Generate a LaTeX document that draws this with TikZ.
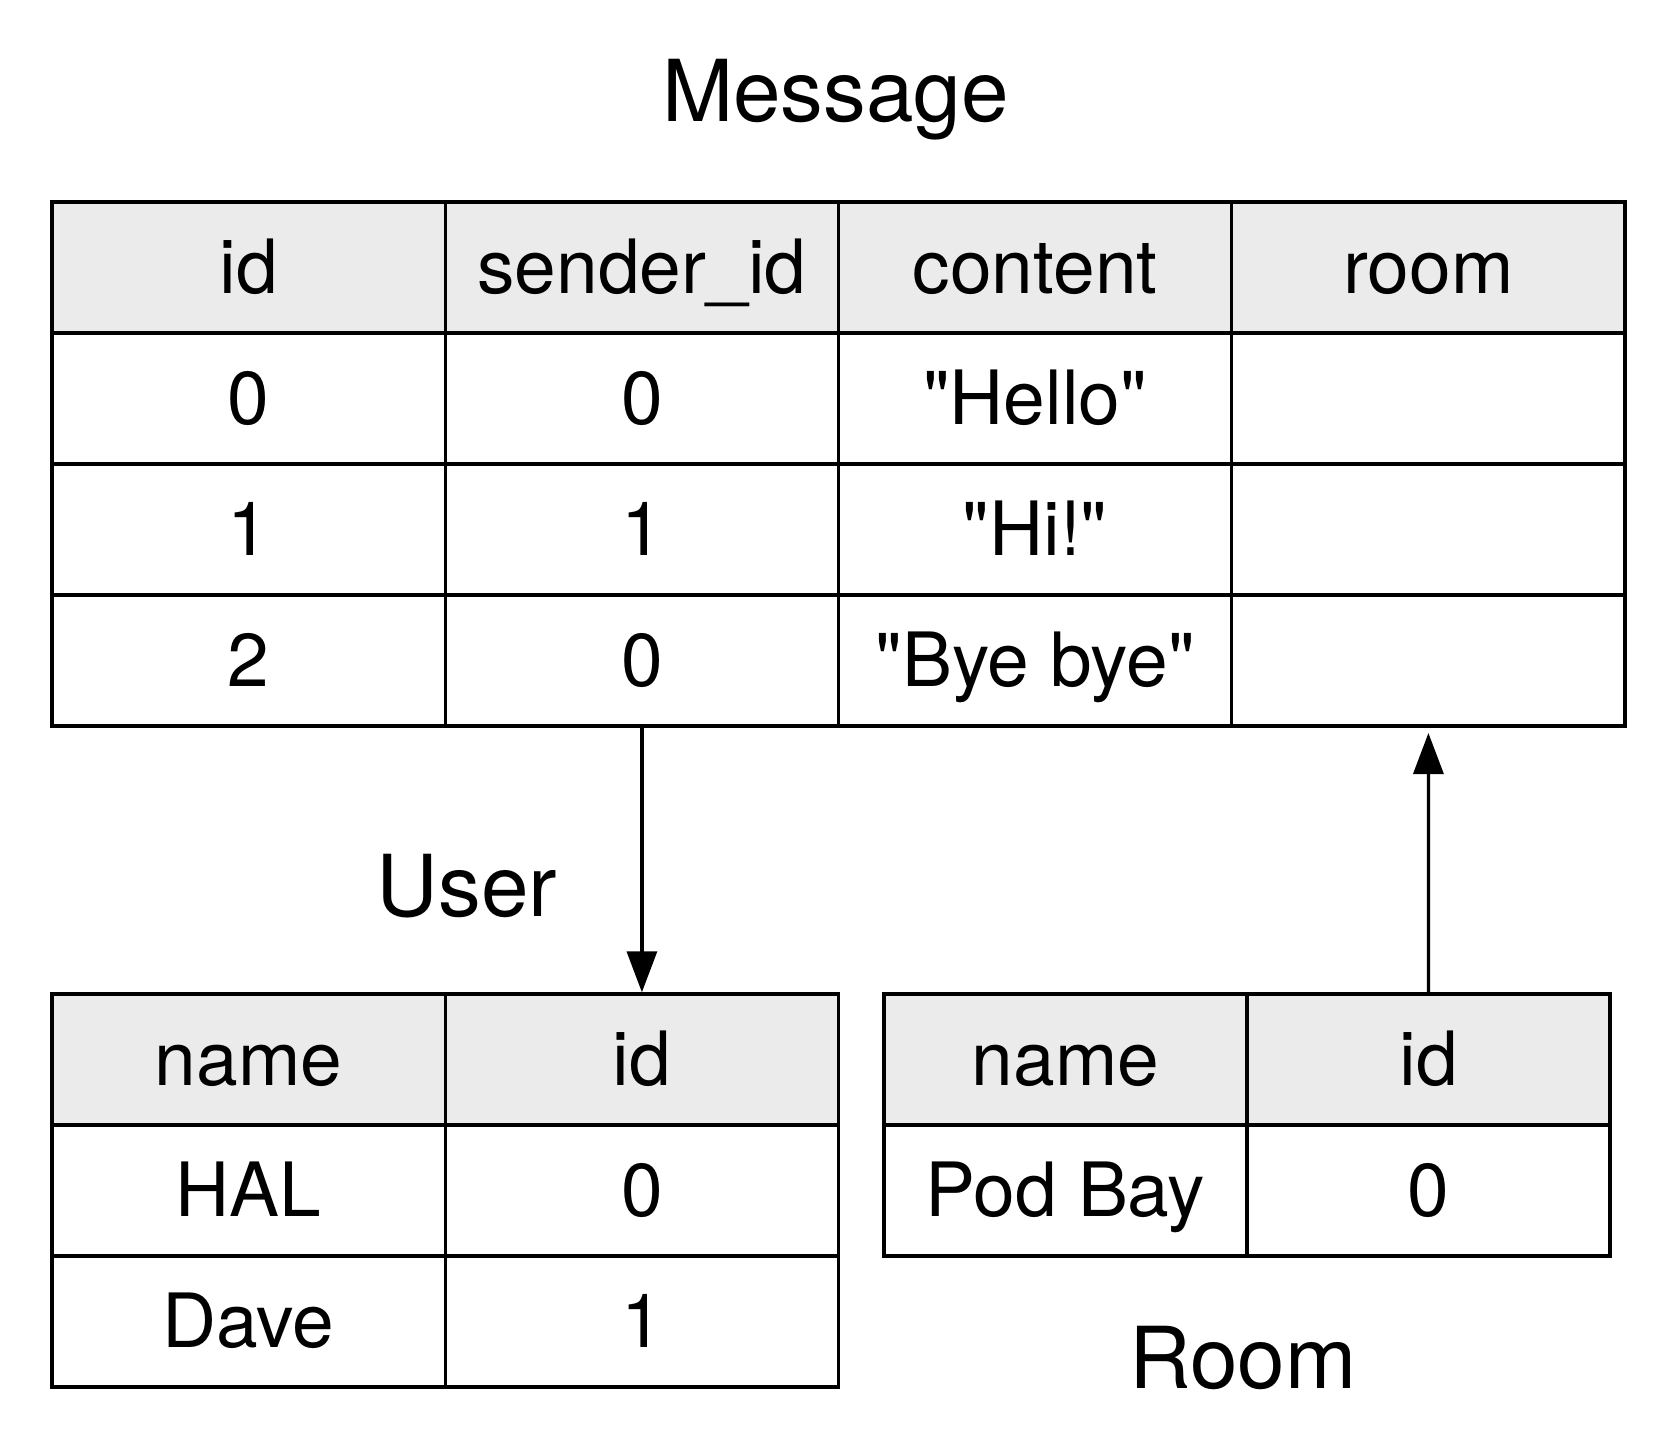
\documentclass[tikz,border=0pt]{standalone}
\usepackage{fontspec}
\setmainfont{TeX Gyre Heros}
\usetikzlibrary{arrows.meta}
\newcommand\qq[1]{\textquotedbl#1\textquotedbl}
\begin{document}
\begin{tikzpicture}[x=0.01cm, y=-0.01cm,
  cell/.style={draw, line width=0.95pt, minimum width=3.93cm, minimum height=1.31cm, inner sep=0pt, text height=0.52cm, text depth=0pt, font=\fontsize{21.3}{25}\selectfont},
  head/.style={cell, fill=black!8},
  title/.style={anchor=base, inner sep=0pt, font=\fontsize{24.3}{29}\selectfont},
  link/.style={line width=0.95pt, -{Triangle[length=0.41cm, width=0.3cm]}}]
\useasboundingbox (0,0) rectangle (1670,1449);
\node[title] (tmsg) at (835.5,122){Message};
\node[head] (msg00) at (248.6,267.5){id};
\node[head] (msg01) at (641.9,267.5){sender\_id};
\node[head] (msg02) at (1035.1,267.5){content};
\node[head] (msg03) at (1428.4,267.5){room};
\node[cell] (msg10) at (248.6,398.5){0};
\node[cell] (msg11) at (641.9,398.5){0};
\node[cell] (msg12) at (1035.1,398.5){\qq{Hello}};
\node[cell] (msg13) at (1428.4,398.5){};
\node[cell] (msg20) at (248.6,529.5){1};
\node[cell] (msg21) at (641.9,529.5){1};
\node[cell] (msg22) at (1035.1,529.5){\qq{Hi!}};
\node[cell] (msg23) at (1428.4,529.5){};
\node[cell] (msg30) at (248.6,660.5){2};
\node[cell] (msg31) at (641.9,660.5){0};
\node[cell] (msg32) at (1035.1,660.5){\qq{Bye bye}};
\node[cell] (msg33) at (1428.4,660.5){};

\node[title] (tusr) at (467,916){User};
\node[head] (usr00) at (248.6,1059.5){name};
\node[head] (usr01) at (641.9,1059.5){id};
\node[cell] (usr10) at (248.6,1190.5){HAL};
\node[cell] (usr11) at (641.9,1190.5){0};
\node[cell] (usr20) at (248.6,1321.5){Dave};
\node[cell] (usr21) at (641.9,1321.5){1};

\node[head, minimum width=3.63cm] (rom00) at (1065.5,1059.5){name};
\node[head, minimum width=3.63cm] (rom01) at (1428.5,1059.5){id};
\node[cell, minimum width=3.63cm] (rom10) at (1065.5,1190.5){Pod Bay};
\node[cell, minimum width=3.63cm] (rom11) at (1428.5,1190.5){0};
\node[title] (trom) at (1243,1388){Room};

\draw[link](msg31.south) -- (usr01.north);
\draw[link, shorten >=1.5pt](rom01.north) -- (msg33.south);
\end{tikzpicture}
\end{document}
